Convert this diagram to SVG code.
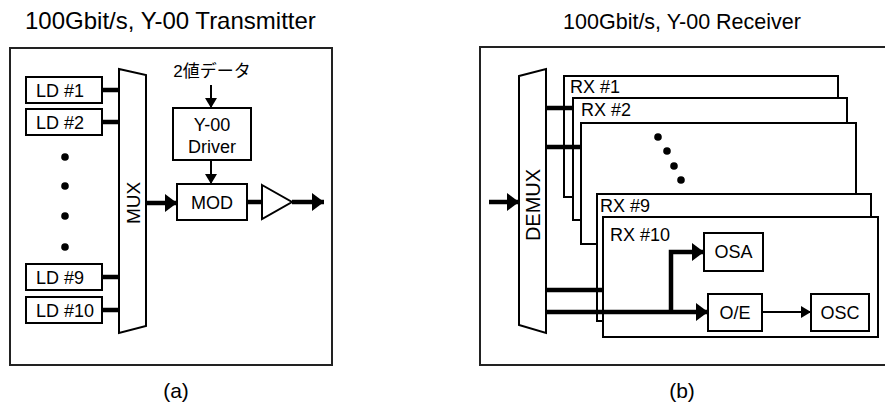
<svg xmlns="http://www.w3.org/2000/svg" width="885" height="408" viewBox="0 0 885 408">
<defs>
<style>
.t{font-family:"Liberation Sans",Arial,"Noto Sans CJK JP",sans-serif;fill:#000}
.title{font-size:24px}
.cap{font-size:21px}
.lbl{font-size:18px}
.box{fill:#fff;stroke:#000;stroke-width:2}
.panel{fill:#fff;stroke:#222;stroke-width:2}
.thick{stroke:#000;stroke-width:4.5;fill:none}
.thin{stroke:#000;stroke-width:2;fill:none}
</style>
<marker id="ah" viewBox="0 0 12 18" refX="12" refY="9" markerWidth="12" markerHeight="18" markerUnits="userSpaceOnUse" orient="auto"><path d="M0,0 L12,9 L0,18 Z" fill="#000"/></marker>
<marker id="as" viewBox="0 0 10 12" refX="10" refY="6" markerWidth="10" markerHeight="12" markerUnits="userSpaceOnUse" orient="auto"><path d="M0,0 L10,6 L0,12 Z" fill="#000"/></marker>
</defs>
<rect width="885" height="408" fill="#fff"/>

<text class="t title" x="25" y="29">100Gbit/s, Y-00 Transmitter</text>
<text class="t" font-size="21.5" x="682" y="29" text-anchor="middle">100Gbit/s, Y-00 Receiver</text>
<text class="t cap" x="176" y="398" text-anchor="middle">(a)</text>
<text class="t cap" x="682" y="398" text-anchor="middle">(b)</text>

<g id="tx-panel"><rect class="panel" x="10" y="48" width="322" height="317"/></g>
<g id="rx-panel"><rect class="panel" x="480" y="47" width="406" height="318"/></g>

<g id="ld1"><rect class="box" x="26" y="77" width="76" height="26"/><text class="t lbl" x="36" y="97">LD #1</text></g>
<g id="ld2"><rect class="box" x="26" y="109" width="76" height="26"/><text class="t lbl" x="36" y="129">LD #2</text></g>
<g id="ld9"><rect class="box" x="26" y="264" width="76" height="26"/><text class="t lbl" x="36" y="284">LD #9</text></g>
<g id="ld10"><rect class="box" x="26" y="297" width="76" height="26"/><text class="t lbl" x="36" y="317">LD #10</text></g>
<g id="ld-dots" fill="#000"><circle cx="65" cy="157" r="3.8"/><circle cx="65" cy="186" r="3.8"/><circle cx="65" cy="216" r="3.8"/><circle cx="65" cy="247" r="3.8"/></g>

<g id="mux"><polygon class="box" points="119,69 146,75 146,326 119,333"/><text class="t" font-size="19" x="0" y="0" text-anchor="middle" transform="translate(140,203) rotate(-90)">MUX</text></g>

<g id="data-label"><text class="t" font-size="17" x="212" y="77" text-anchor="middle">2値データ</text></g>
<g id="driver"><rect class="box" x="173" y="108" width="78" height="52"/><text class="t lbl" x="212" y="131" text-anchor="middle">Y-00</text><text class="t lbl" x="212" y="153" text-anchor="middle">Driver</text></g>
<g id="mod"><rect class="box" x="177" y="184" width="70" height="36"/><text class="t lbl" x="212" y="209" text-anchor="middle">MOD</text></g>
<g id="amp"><polygon class="box" points="262,185 292,202 262,219"/></g>

<g id="rx1"><rect class="box" x="564" y="76" width="274" height="121"/><text class="t lbl" x="570" y="93">RX #1</text></g>
<g id="rx2"><rect class="box" x="573" y="98" width="274" height="122"/><text class="t lbl" x="581" y="116">RX #2</text></g>
<g id="rx3"><rect class="box" x="581" y="123" width="275" height="121"/><g fill="#000"><circle cx="658" cy="137" r="3.8"/><circle cx="667" cy="151" r="3.8"/><circle cx="674" cy="166" r="3.8"/><circle cx="681" cy="180" r="3.8"/></g></g>
<g id="rx9"><rect class="box" x="597" y="194" width="274" height="127"/><text class="t lbl" x="600" y="212">RX #9</text></g>
<g id="rx10"><rect class="box" x="603" y="217" width="275" height="120"/><text class="t lbl" x="610" y="241">RX #10</text></g>
<g id="osa"><rect class="box" x="704" y="233" width="59" height="38"/><text class="t lbl" x="733.5" y="258" text-anchor="middle">OSA</text></g>
<g id="oe"><rect class="box" x="708" y="294" width="54" height="37"/><text class="t lbl" x="735" y="319" text-anchor="middle">O/E</text></g>
<g id="osc"><rect class="box" x="811" y="294" width="58" height="37"/><text class="t lbl" x="840" y="319" text-anchor="middle">OSC</text></g>

<g id="demux"><polygon class="box" points="519,76 546,69 546,333 519,325"/><text class="t" font-size="20" x="0" y="0" text-anchor="middle" transform="translate(540,205) rotate(-90)">DEMUX</text></g>

<g id="connectors">
<path class="thick" d="M102,90 H119 M102,122 H119 M102,277 H119 M102,310 H119"/>
<path class="thick" d="M146,203 H177" marker-end="url(#ah)"/>
<path class="thin" d="M211,85 V108" marker-end="url(#as)"/>
<path class="thin" d="M211,160 V184" marker-end="url(#as)"/>
<path class="thick" d="M247,202 H262"/>
<path class="thick" d="M292,202 H324" marker-end="url(#ah)"/>
<path class="thick" d="M489,202 H519" marker-end="url(#ah)"/>
<path class="thick" d="M546,108 H573 M546,147 H581 M546,290 H603"/>
<path class="thick" d="M546,312 H708" marker-end="url(#ah)"/>
<path class="thick" d="M671,312 V252 H704" marker-end="url(#ah)"/>
<path class="thin" d="M762,312 H811" marker-end="url(#as)"/>
</g>
</svg>
